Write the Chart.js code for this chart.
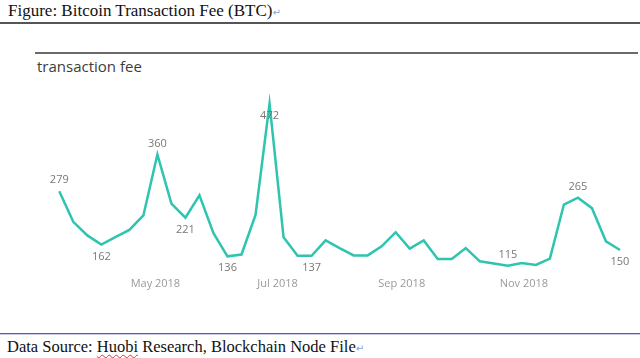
<!DOCTYPE html>
<html>
<head>
<meta charset="utf-8">
<script src="https://cdn.jsdelivr.net/npm/chart.js"></script>
<style>
  html, body { margin: 0; padding: 0; background: #fff; width: 640px; height: 358px; overflow: hidden; }
  .doc { position: absolute; font-family: "Liberation Serif", "Times New Roman", serif; color: #111; white-space: nowrap; }
  .ret { color: #7aa6e6; font-family: "DejaVu Sans", sans-serif; font-size: 10px; }
  .wavy { text-decoration: underline wavy #e03030; text-decoration-thickness: 1px; text-underline-offset: 2px; }
  #title { left: 8px; top: 1px; font-size: 17px; }
  #rule1 { position: absolute; left: 0; top: 22px; width: 640px; height: 2px; background: #555; }
  #rule2 { position: absolute; left: 35px; top: 52px; width: 603px; height: 2px; background: #6a6a6a; }
  #subtitle { position: absolute; left: 37px; top: 56px; font-family: "Open Sans", sans-serif; font-size: 15px; color: #3c3c3c; }
  #rule3 { position: absolute; left: 0; top: 333px; width: 640px; height: 1px; background: #5a5aa8; border-bottom: 1px solid #c9c9ea; }
  #source { left: 7px; top: 337px; font-size: 16.5px; }
  #wrap { position: absolute; left: 0; top: 83px; width: 640px; height: 215px; }
</style>
</head>
<body>
<div class="doc" id="title">Figure: Bitcoin Transaction Fee (BTC)<span class="ret">↵</span></div>
<div id="rule1"></div>
<div id="rule2"></div>
<div id="subtitle">transaction fee</div>
<div id="wrap"><canvas id="chart"></canvas></div>
<div id="rule3"></div>
<div class="doc" id="source">Data Source: <span class="wavy">Huobi</span> Research, Blockchain Node File<span class="ret">↵</span></div>

<script>
// weekly dates (2018)
const weeks = [
  '2018-03-14', '2018-03-21', '2018-03-28', '2018-04-04', '2018-04-11', '2018-04-18', '2018-04-25',
  '2018-05-02', '2018-05-09', '2018-05-16', '2018-05-23', '2018-05-30', '2018-06-06', '2018-06-13',
  '2018-06-20', '2018-06-27', '2018-07-04', '2018-07-11', '2018-07-18', '2018-07-25', '2018-08-01',
  '2018-08-08', '2018-08-15', '2018-08-22', '2018-08-29', '2018-09-05', '2018-09-12', '2018-09-19',
  '2018-09-26', '2018-10-03', '2018-10-10', '2018-10-17', '2018-10-24', '2018-10-31', '2018-11-07',
  '2018-11-14', '2018-11-21', '2018-11-28', '2018-12-05', '2018-12-12', '2018-12-19'
];

// transaction fee (BTC)
const fees = [
  279, 212, 182, 162, 178, 194, 226,
  360, 252, 221, 270, 187, 136, 140,
  227, 472, 178, 137, 137, 171, 154,
  138, 138, 158, 189, 153, 171, 130,
  130, 154, 125, 120, 115, 121, 117,
  131, 250, 265, 242, 169, 150
];

// which points get a value label
const labelled = [0, 3, 7, 9, 12, 15, 18, 32, 37, 40];

// axis ticks
const tickDates = ['2018-05-01', '2018-07-01', '2018-09-01', '2018-11-01'];
const tickLabels = ['May 2018', 'Jul 2018', 'Sep 2018', 'Nov 2018'];

// day of year from YYYY-MM-DD
function dayNum(s) {
    const p = s.split('-').map(Number);
    return (Date.UTC(p[0], p[1] - 1, p[2]) - Date.UTC(2018, 0, 1)) / 86400000;
}

const points = weeks.map((w, i) => ({ x: dayNum(w), y: fees[i] }));
const tickDays = tickDates.map(dayNum);

// label above or below the point
const labelSide = { 0: -1, 3: 1, 7: -1, 9: 1, 12: 1, 15: 1, 18: 1, 32: -1, 37: -1, 40: 1 };

const valueLabels = {
    id: 'valueLabels',
    afterDatasetsDraw(chart) {
        const ctx = chart.ctx;
        const meta = chart.getDatasetMeta(0);
        ctx.save();
        ctx.font = '11px "Open Sans", sans-serif';
        ctx.fillStyle = '#777';
        ctx.textAlign = 'center';
        ctx.textBaseline = 'middle';
        labelled.forEach(i => {
            const el = meta.data[i];
            const off = labelSide[i] < 0 ? -11 : 12;
            ctx.fillText(String(fees[i]), el.x, el.y + off);
        });
        ctx.restore();
    }
};

new Chart(document.getElementById('chart'), {
    type: 'line',
    data: {
        datasets: [{
            data: points,
            borderColor: '#2ec4b0',
            borderWidth: 2.5,
            pointRadius: 0,
            tension: 0,
            clip: false
        }]
    },
    options: {
        responsive: true,
        maintainAspectRatio: false,
        animation: false,
        layout: { padding: { left: 0, right: 0, top: 0, bottom: 5 } },
        plugins: { legend: { display: false }, tooltip: { enabled: false } },
        scales: {
            x: {
                type: 'linear',
                min: 42.4,
                max: 362,
                grid: { display: false, drawTicks: false },
                border: { display: false },
                afterBuildTicks: axis => { axis.ticks = tickDays.map(v => ({ value: v })); },
                ticks: {
                    padding: 3,
                    maxRotation: 0,
                    autoSkip: false,
                    color: '#9a9a9a',
                    font: { family: '"Open Sans", sans-serif', size: 11 },
                    callback: v => tickLabels[tickDays.indexOf(v)]
                }
            },
            y: {
                display: false,
                min: 97.5,
                max: 517.4
            }
        }
    },
    plugins: [valueLabels]
});
</script>
</body>
</html>
